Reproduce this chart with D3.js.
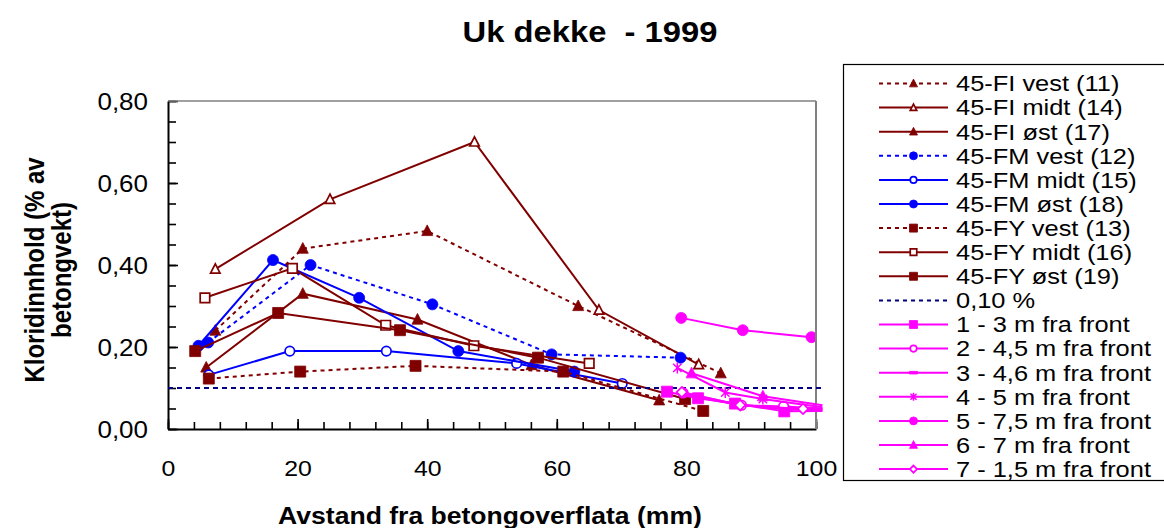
<!DOCTYPE html>
<html>
<head>
<meta charset="utf-8">
<script src="https://cdn.jsdelivr.net/npm/d3@7"></script>
<style>
  body { margin: 0; background: #fff; }
  svg text { font-family: "Liberation Sans", Arial, Helvetica, sans-serif; fill: #000; }
</style>
</head>
<body>
<svg id="chart" width="1164" height="528"></svg>
<script>
// Chloride content vs. depth — each series is [distance (mm), chloride (% of concrete weight)]
const fiVest = [[7.3, 0.24], [20.8, 0.44], [40, 0.483], [63.3, 0.30], [85.3, 0.136]];
const fiMidt = [[7.3, 0.39], [25, 0.56], [47.3, 0.70], [66.5, 0.29], [81.9, 0.157]];
const fiOst  = [[5.9, 0.15], [20.8, 0.33], [38.5, 0.267], [56.1, 0.156], [75.8, 0.07]];
const fmVest = [[6.2, 0.211], [22, 0.40], [40.8, 0.304], [59.2, 0.182], [79.1, 0.174]];
const fmMidt = [[6.3, 0.132], [18.8, 0.19], [33.7, 0.19], [53.8, 0.16], [70.1, 0.111]];
const fmOst  = [[4.7, 0.203], [16.2, 0.412], [29.5, 0.32], [44.8, 0.19], [62.7, 0.14]];
const fyVest = [[6.3, 0.123], [20.4, 0.14], [38.2, 0.154], [61, 0.14], [82.6, 0.044]];
const fyMidt = [[5.7, 0.32], [19.2, 0.392], [33.6, 0.253], [47.2, 0.203], [65, 0.16]];
const fyOst  = [[4.2, 0.19], [17, 0.283], [35.8, 0.241], [57.1, 0.174], [79.8, 0.073]];
const limit  = [[0, 0.10], [101, 0.10]];
const front1 = [[77, 0.091], [81.8, 0.075], [87.5, 0.062], [95.1, 0.043], [101, 0.044]];
const front2 = [[79.5, 0.088], [88.5, 0.058], [95, 0.055], [101, 0.05]];
const front3 = [[80, 0.082], [87.8, 0.06], [95.5, 0.048], [101, 0.047]];
const front4 = [[78.6, 0.149], [86, 0.089], [91.8, 0.073], [101, 0.053]];
const front5 = [[79.2, 0.271], [88.7, 0.241], [99.3, 0.224]];
const front6 = [[80.8, 0.136], [91.8, 0.08], [101, 0.058]];
const front7 = [[79.3, 0.09], [88.3, 0.058], [98, 0.049], [101, 0.048]];

const seriesNames = [
  "45-FI vest (11)", "45-FI midt (14)", "45-FI øst (17)",
  "45-FM vest (12)", "45-FM midt (15)", "45-FM øst (18)",
  "45-FY vest (13)", "45-FY midt (16)", "45-FY øst (19)",
  "0,10 %",
  "1 - 3 m fra front", "2 - 4,5 m fra front", "3 - 4,6 m fra front",
  "4 - 5 m fra front", "5 - 7,5 m fra front", "6 - 7 m fra front", "7 - 1,5 m fra front"
];
const xTickValues = [0, 20, 40, 60, 80, 100];
const yTickValues = [0, 0.2, 0.4, 0.6, 0.8];
const titleText = "Uk dekke  - 1999";
const xTitle = "Avstand fra betongoverflata (mm)";
const yTitleLines = ["Kloridinnhold (% av", "betongvekt)"];

// Styling per series
const RED = "#800000", BLUE = "#0000ff", NAVY = "#000080", MAG = "#ff00ff";
const styles = [
  { color: RED,  dash: "4,4", marker: "tri",     fill: true },
  { color: RED,  dash: null,  marker: "tri",     fill: false },
  { color: RED,  dash: null,  marker: "tri",     fill: true },
  { color: BLUE, dash: "4,4", marker: "circle",  fill: true },
  { color: BLUE, dash: null,  marker: "circle",  fill: false },
  { color: BLUE, dash: null,  marker: "circle",  fill: true },
  { color: RED,  dash: "4,4", marker: "square",  fill: true },
  { color: RED,  dash: null,  marker: "square",  fill: false },
  { color: RED,  dash: null,  marker: "square",  fill: true },
  { color: NAVY, dash: "5,4", marker: null,      fill: false },
  { color: MAG,  dash: null,  marker: "square",  fill: true },
  { color: MAG,  dash: null,  marker: "circle",  fill: false },
  { color: MAG,  dash: null,  marker: "dash",    fill: true },
  { color: MAG,  dash: null,  marker: "star",    fill: false },
  { color: MAG,  dash: null,  marker: "circle",  fill: true },
  { color: MAG,  dash: null,  marker: "tri",     fill: true },
  { color: MAG,  dash: null,  marker: "diamond", fill: false }
];
const seriesData = [fiVest, fiMidt, fiOst, fmVest, fmMidt, fmOst, fyVest, fyMidt, fyOst,
                    limit, front1, front2, front3, front4, front5, front6, front7];
const series = seriesNames.map((name, i) => ({ name, data: seriesData[i], ...styles[i] }));

const SX = 1.13; // horizontal text stretch
const svg = d3.select("#chart");
const plot = { left: 168, right: 816, top: 101, bottom: 429 };

const x = d3.scaleLinear().domain([0, 100]).range([plot.left, plot.right]);
const y = d3.scaleLinear().domain([0, 0.8]).range([plot.bottom, plot.top]);

// markers are only shown inside the plot area
svg.append("defs").append("clipPath").attr("id", "plotClip")
  .append("rect")
  .attr("x", plot.left - 20).attr("y", plot.top - 20)
  .attr("width", plot.right - plot.left + 19).attr("height", plot.bottom - plot.top + 40);

// marker shapes centred on 0,0
function markerPath(type, s) {
  if (type === "tri") return `M0,${-s * 0.55}L${s / 2},${s * 0.42}L${-s / 2},${s * 0.42}Z`;
  if (type === "square") return `M${-s / 2},${-s / 2}h${s}v${s}h${-s}Z`;
  if (type === "diamond") { const a = s * 0.55; return `M0,${-a}L${a},0L0,${a}L${-a},0Z`; }
  if (type === "dash") return `M${-s / 2},-1.3h${s}v2.6h${-s}Z`;
  if (type === "star") { const a = s * 0.38; return `M0,${-s / 2}V${s / 2}M${-a},${-a}L${a},${a}M${-a},${a}L${a},${-a}`; }
  if (type === "circle") { const p = d3.path(); p.arc(0, 0, s / 2, 0, 2 * Math.PI); p.closePath(); return p.toString(); }
  return "";
}
function drawMarker(g, st, cx, cy, s) {
  const path = g.append("path")
    .attr("d", markerPath(st.marker, st.fill || st.marker === "star" ? s : s - 1.5))
    .attr("transform", `translate(${cx},${cy})`);
  if (st.marker === "star") {
    path.attr("fill", "none").attr("stroke", st.color).attr("stroke-width", 1.5);
  } else if (st.fill) {
    path.attr("fill", st.color).attr("stroke", st.color).attr("stroke-width", 0.8);
  } else {
    path.attr("fill", "#fff").attr("stroke", st.color).attr("stroke-width", 1.7);
  }
}

// Axes: minor ticks every 4 mm / 0.05, major at labels, all pointing inward
const gx = svg.append("g").attr("transform", `translate(0,${plot.bottom})`);
gx.append("g").call(d3.axisBottom(x).tickValues(d3.range(0, 101, 4)).tickSizeInner(-7).tickSizeOuter(0).tickFormat(""))
  .call(g => g.select(".domain").remove());
gx.append("g").call(d3.axisBottom(x).tickValues(xTickValues).tickSizeInner(-10).tickSizeOuter(0)
    .tickFormat(d3.format("d")))
  .call(g => g.select(".domain").attr("stroke", "#000").attr("stroke-width", 2))
  .call(g => g.selectAll("text").attr("y", 39).attr("dy", "0.35em")
    .attr("transform", `scale(${SX},1)`).style("font-size", "22px"));
gx.selectAll("line").attr("stroke", "#000").attr("stroke-width", 1.6);

const gy = svg.append("g").attr("transform", `translate(${plot.left},0)`);
gy.append("g").call(d3.axisLeft(y).tickValues(d3.range(0, 0.801, 0.05)).tickSizeInner(-8).tickSizeOuter(0).tickFormat(""))
  .call(g => g.select(".domain").remove());
gy.append("g").call(d3.axisLeft(y).tickValues(yTickValues).tickSizeInner(-10).tickSizeOuter(0)
    .tickFormat(d => d.toFixed(2).replace(".", ",")))
  .call(g => g.select(".domain").attr("stroke", "#000").attr("stroke-width", 2))
  .call(g => g.selectAll("text").attr("x", -20 / SX).attr("dy", "0.35em")
    .attr("transform", `scale(${SX},1)`).style("font-size", "23px"));
gy.selectAll("line").attr("stroke", "#000").attr("stroke-width", 1.6);

// grey frame on top and right
svg.append("line").attr("x1", plot.left).attr("x2", plot.right).attr("y1", plot.top).attr("y2", plot.top)
  .attr("stroke", "#808080").attr("stroke-width", 1.5);
svg.append("line").attr("x1", plot.right).attr("x2", plot.right).attr("y1", plot.top).attr("y2", plot.bottom)
  .attr("stroke", "#808080").attr("stroke-width", 2);

// Series
const line = d3.line().x(d => x(d[0])).y(d => y(d[1]));
const gSeries = svg.append("g");
series.forEach(s => {
  gSeries.append("path").datum(s.data)
    .attr("d", line)
    .attr("fill", "none")
    .attr("stroke", s.color)
    .attr("stroke-width", 2)
    .attr("stroke-dasharray", s.dash);
  if (s.marker) {
    const gm = gSeries.append("g").attr("clip-path", "url(#plotClip)");
    s.data.forEach(d => drawMarker(gm, s, x(d[0]), y(d[1]), 11));
  }
});

// Title and axis titles
svg.append("text").attr("transform", `translate(590,32) scale(${SX},1)`)
  .attr("text-anchor", "middle").attr("dy", "0.35em")
  .style("font-size", "29px").style("font-weight", "bold").style("white-space", "pre")
  .text(titleText);
svg.append("text").attr("transform", `translate(490,516) scale(${SX},1)`)
  .attr("text-anchor", "middle").attr("dy", "0.35em")
  .style("font-size", "23.5px").style("font-weight", "bold")
  .text(xTitle);
yTitleLines.forEach((t, i) => {
  svg.append("text").attr("transform", `translate(${35 + i * 27},270) rotate(-90) scale(1,${SX})`)
    .attr("text-anchor", "middle").attr("dy", "0.35em")
    .style("font-size", "24px").style("font-weight", "bold")
    .text(t);
});

// Legend
const leg = svg.append("g");
leg.append("rect").attr("x", 843.5).attr("y", 64.5).attr("width", 340).attr("height", 416)
  .attr("fill", "#fff").attr("stroke", "#000").attr("stroke-width", 1.2);
series.forEach((s, i) => {
  const cy = 83.5 + i * 24.1;
  const g = leg.append("g");
  g.append("line").attr("x1", 879).attr("x2", 948).attr("y1", cy).attr("y2", cy)
    .attr("stroke", s.color).attr("stroke-width", 2).attr("stroke-dasharray", s.dash ? "4,4" : null);
  if (s.marker) drawMarker(g, s, 913.5, cy, 8);
  g.append("text").attr("transform", `translate(956,${cy}) scale(${SX},1)`)
    .attr("dy", "0.35em").style("font-size", "22.5px").text(s.name);
});
</script>
</body>
</html>
